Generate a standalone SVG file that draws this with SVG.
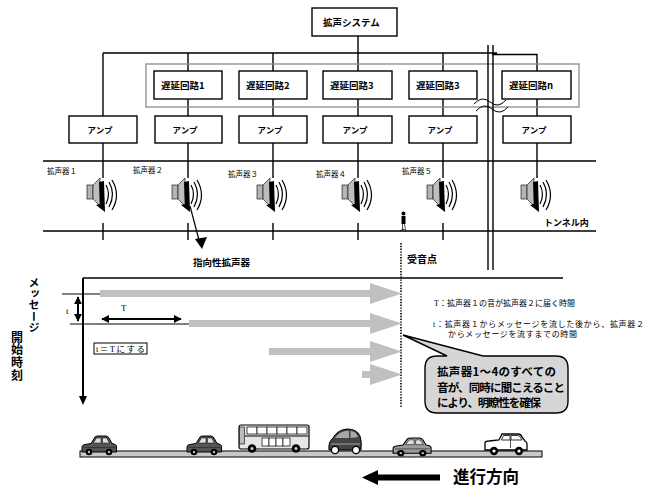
<svg xmlns="http://www.w3.org/2000/svg" xmlns:xlink="http://www.w3.org/1999/xlink" width="654" height="488" viewBox="0 0 654 488">
  <style>
    .box { fill: #ffffff; stroke: #000000; stroke-width: 1.4; }
    .grp { fill: none; stroke: #8a8a8a; stroke-width: 1.3; }
    .ln { fill: none; stroke: #000000; stroke-width: 1.4; }
    .thin { fill: none; stroke: #000000; stroke-width: 1; }
    .lbl { font-family: "Noto Sans CJK JP", "Liberation Sans", sans-serif; font-weight: bold; fill: #000000; }
    .mincho { font-family: "Liberation Serif", "Noto Sans CJK JP", serif; fill: #000000; }
    .bar { fill: #c0c0c0; }
  </style>
  <defs>
    <!-- loudspeaker icon, origin on the feed line, top of the icon -->
    <g id="spk">
      <rect x="-16" y="8" width="6" height="14" fill="#b4b4b4" stroke="#000" stroke-width="0.6"/>
      <polygon points="-10,8 -3,1 -3,29 -10,22" fill="#bdbdbd" stroke="#000" stroke-width="0.6"/>
      <polygon points="-4,5 1,4 2,35 -7,28 -3,27" fill="#000"/>
      <path d="M3,8 q5,9 0,19 M6,5 q7,12 0,25 M9,3 q9,15 0,30" fill="none" stroke="#000" stroke-width="1.2"/>
    </g>
    <!-- sedan, body colour comes from the referencing element -->
    <g id="sedan">
      <path d="M1,17 V12 Q1,10 4,9.5 L10,8.5 L14,2 Q15,1 17,1 H25 Q27,1 28,3 L31,8.5 Q35,9 35.5,11 V17 Z" stroke="#000" stroke-width="1"/>
      <path d="M15.5,3 H20 V8 H12.5 Z M21.5,3 H25.5 L28.5,8 H21.5 Z" fill="#e0e0e0" stroke="#000" stroke-width="0.5"/>
      <line x1="3" y1="12.5" x2="34" y2="12.5" stroke="#222" stroke-width="0.6"/>
      <circle cx="8" cy="17" r="3.3" fill="#000"/>
      <circle cx="8" cy="17" r="1.2" fill="#bbb"/>
      <circle cx="28" cy="17" r="3.3" fill="#000"/>
      <circle cx="28" cy="17" r="1.2" fill="#bbb"/>
    </g>
    <marker id="ah" viewBox="0 0 10 10" refX="9" refY="5" markerWidth="4" markerHeight="4" orient="auto-start-reverse">
      <path d="M0,0 L10,5 L0,10 Z" fill="#000"/>
    </marker>
  </defs>

  <rect width="654" height="488" fill="#ffffff"/>

  <!-- wiring between system, delay circuits, amplifiers and speakers -->
  <g id="connectors">
    <path class="ln" d="M358,36 V71 M103,53 H497 M492,54.5 H537 V71"/>
    <path class="ln" d="M103,53 V116 M188,53 V71 M273,53 V71"/>
    <path class="ln" d="M443,53 V71"/>
    <path class="ln" d="M188,99 V116 M273,99 V116 M358,99 V116 M443,99 V116 M537,99 V116"/>
    <path class="ln" d="M103,143 V178 M188,143 V178 M273,143 V178 M358,143 V178 M443,143 V178 M537,143 V178"/>
  </g>

  <!-- delay circuit enclosure -->
  <rect id="delay-group" class="grp" x="146" y="64" width="433" height="43"/>

  <g id="system">
    <rect class="box" x="312" y="8" width="85" height="28"/>
    <text class="lbl" x="323" y="26" font-size="9.5">拡声システム</text>
  </g>

  <g id="delay1"><rect class="box" x="154" y="71" width="68" height="28"/><text class="lbl" x="161" y="88.5" font-size="9.5">遅延回路1</text></g>
  <g id="delay2"><rect class="box" x="239" y="71" width="68" height="28"/><text class="lbl" x="246" y="88.5" font-size="9.5">遅延回路2</text></g>
  <g id="delay3"><rect class="box" x="323" y="71" width="69" height="28"/><text class="lbl" x="330" y="88.5" font-size="9.5">遅延回路3</text></g>
  <g id="delay4"><rect class="box" x="409" y="71" width="68" height="28"/><text class="lbl" x="416" y="88.5" font-size="9.5">遅延回路3</text></g>
  <g id="delayn"><rect class="box" x="502" y="71" width="69" height="28"/><text class="lbl" x="509" y="88.5" font-size="9.5">遅延回路n</text></g>

  <g id="amp1"><rect class="box" x="69" y="116" width="68" height="27"/><text class="lbl" x="100" y="133" font-size="8.5" text-anchor="middle">アンプ</text></g>
  <g id="amp2"><rect class="box" x="155" y="116" width="67" height="27"/><text class="lbl" x="185" y="133" font-size="8.5" text-anchor="middle">アンプ</text></g>
  <g id="amp3"><rect class="box" x="239" y="116" width="68" height="27"/><text class="lbl" x="270" y="133" font-size="8.5" text-anchor="middle">アンプ</text></g>
  <g id="amp4"><rect class="box" x="323" y="116" width="69" height="27"/><text class="lbl" x="355" y="133" font-size="8.5" text-anchor="middle">アンプ</text></g>
  <g id="amp5"><rect class="box" x="409" y="116" width="68" height="27"/><text class="lbl" x="440" y="133" font-size="8.5" text-anchor="middle">アンプ</text></g>
  <g id="ampn"><rect class="box" x="503" y="116" width="68" height="27"/><text class="lbl" x="534" y="133" font-size="8.5" text-anchor="middle">アンプ</text></g>

  <!-- omission mark: double line and tilde -->
  <g id="break">
    <path class="ln" d="M488,45 V270 M493,45 V270" stroke-width="1.2"/>
    <path d="M474,104 q8,-9 16,-2 t16,-2 M476,111 q8,-9 16,-2 t16,-2" fill="none" stroke="#000" stroke-width="1"/>
  </g>

  <!-- tunnel -->
  <g id="tunnel">
    <path class="ln" d="M43,161 H596 M43,231 H596"/>
    <path class="ln" d="M103,223 V240 M188,223 V240 M273,223 V240 M358,223 V240 M443,223 V240"/>
    <text class="lbl" x="544" y="226" font-size="9" font-weight="normal">トンネル内</text>
  </g>

  <g id="speaker1"><use href="#spk" x="103" y="177"/><text class="mincho" x="47" y="174" font-size="7.5">拡声器１</text></g>
  <g id="speaker2"><use href="#spk" x="188" y="177"/><text class="mincho" x="133" y="173" font-size="7.5">拡声器２</text></g>
  <g id="speaker3"><use href="#spk" x="273" y="177"/><text class="mincho" x="228" y="177" font-size="7.5">拡声器３</text></g>
  <g id="speaker4"><use href="#spk" x="358" y="177"/><text class="mincho" x="316" y="177" font-size="7.5">拡声器４</text></g>
  <g id="speaker5"><use href="#spk" x="443" y="177"/><text class="mincho" x="402" y="174" font-size="7.5">拡声器５</text></g>
  <g id="speakern"><use href="#spk" x="537" y="177"/></g>

  <!-- directional speaker callout -->
  <g id="directional">
    <line x1="190" y1="206" x2="199" y2="240" stroke="#000" stroke-width="1.2"/>
    <polygon points="195,239 207,237 202,249" fill="#000"/>
    <text class="lbl" x="193" y="266" font-size="9.5">指向性拡声器</text>
  </g>

  <!-- listener -->
  <g id="listener">
    <circle cx="403.5" cy="213.5" r="2" fill="#000"/>
    <rect x="401.5" y="216" width="4" height="8" fill="#000"/>
    <path d="M402.5,224 V230 M404.5,224 L405.5,230" stroke="#555" stroke-width="1"/>
    <path d="M400,231 L403,229 L406,231" stroke="#000" stroke-width="0.8" fill="none"/>
    <line x1="401" y1="243" x2="401" y2="408" stroke="#000" stroke-width="1.6" stroke-dasharray="1.4,1.4"/>
    <text class="lbl" x="407" y="263" font-size="10">受音点</text>
  </g>

  <!-- timing chart -->
  <g id="timing">
    <line x1="83" y1="278" x2="563" y2="278" stroke="#000" stroke-width="1.4"/>
    <line x1="83" y1="278" x2="83" y2="397" stroke="#000" stroke-width="2"/>
    <polygon points="79,396 87,396 83,405" fill="#000"/>
    <line x1="62" y1="294" x2="100" y2="294" class="thin"/>
    <line x1="70" y1="324" x2="189" y2="324" class="thin"/>
    <line x1="78" y1="297" x2="78" y2="321" stroke="#000" stroke-width="2" marker-start="url(#ah)" marker-end="url(#ah)"/>
    <text class="mincho" x="66" y="314" font-size="9">t</text>
    <line x1="102" y1="319" x2="181" y2="319" stroke="#000" stroke-width="2" marker-start="url(#ah)" marker-end="url(#ah)"/>
    <text class="mincho" x="121" y="311" font-size="9">T</text>
    <rect x="94" y="343" width="53" height="11" fill="#fff" stroke="#000" stroke-width="1"/>
    <text class="mincho" x="96" y="352" font-size="8.5" textLength="49">t＝Tにする</text>

    <rect class="bar" x="100" y="290" width="271" height="7"/>
    <polygon class="bar" points="370,283 402,293.5 370,304"/>
    <rect class="bar" x="189" y="320" width="182" height="7"/>
    <polygon class="bar" points="370,313 402,323.5 370,334"/>
    <rect class="bar" x="269" y="348" width="102" height="7"/>
    <polygon class="bar" points="370,341 402,351.5 370,362"/>
    <rect class="bar" x="362" y="371" width="9" height="7"/>
    <polygon class="bar" points="370,364 402,374.5 370,385"/>

    <text class="lbl" x="34" y="277" font-size="11" style="writing-mode: vertical-rl;" letter-spacing="0.3">メッセージ</text>
    <text class="lbl" x="17" y="331" font-size="12" style="writing-mode: vertical-rl;" letter-spacing="0.8">開始時刻</text>
  </g>

  <!-- legend -->
  <g id="notes" class="mincho" font-size="8">
    <text x="434" y="306" textLength="141">T：拡声器１の音が拡声器２に届く時間</text>
    <text x="433" y="327" textLength="211">t：拡声器１からメッセージを流した後から、拡声器２</text>
    <text x="448" y="337" textLength="129">からメッセージを流すまでの時間</text>
  </g>

  <!-- speech balloon -->
  <g id="balloon">
    <path d="M437,356 H447 L403,335 L483,356 H556 Q568,356 568,368 V401 Q568,413 556,413 H437 Q425,413 425,401 V368 Q425,356 437,356 Z" fill="#d6d6d6" stroke="#000" stroke-width="1.4"/>
    <text class="lbl" x="437" y="376" font-size="11.5" textLength="119">拡声器1～4のすべての</text>
    <text class="lbl" x="437" y="391.5" font-size="11.5" textLength="128">音が、同時に聞こえること</text>
    <text class="lbl" x="437" y="407" font-size="11.5" textLength="104">により、明瞭性を確保</text>
  </g>

  <!-- road and traffic -->
  <g id="road">
    <rect x="80" y="451" width="462" height="6" fill="#c8c8c8" stroke="#000" stroke-width="1"/>
    <use href="#sedan" x="81" y="435" fill="#555555"/>
    <use href="#sedan" x="186" y="435" fill="#555555"/>
    <g transform="translate(392,437) scale(1.1,0.95)">
      <use href="#sedan" fill="#9a9a9a"/>
    </g>

    <!-- bus -->
    <g transform="translate(238,424)">
      <rect x="1" y="1" width="70" height="24" rx="2" fill="#e6e6e6" stroke="#000" stroke-width="1.2"/>
      <rect x="1.5" y="3" width="5" height="17" fill="#bbb" stroke="#000" stroke-width="0.6"/>
      <g fill="#fff" stroke="#000" stroke-width="0.7">
        <rect x="9" y="3" width="10" height="7"/><rect x="19" y="3" width="10" height="7"/>
        <rect x="29" y="3" width="10" height="7"/><rect x="39" y="3" width="10" height="7"/>
        <rect x="49" y="3" width="10" height="7"/><rect x="59" y="3" width="10" height="7"/>
        <rect x="24" y="14" width="7" height="8"/><rect x="31" y="14" width="7" height="8"/>
        <rect x="38" y="14" width="7" height="8"/><rect x="45" y="14" width="7" height="8"/>
      </g>
      <line x1="7" y1="12" x2="70" y2="12" stroke="#000" stroke-width="1"/>
      <circle cx="14" cy="24.5" r="4.3" fill="#000"/><circle cx="14" cy="24.5" r="1.6" fill="#ccc"/>
      <circle cx="58" cy="24.5" r="4.3" fill="#000"/><circle cx="58" cy="24.5" r="1.6" fill="#ccc"/>
    </g>

    <!-- compact car -->
    <g transform="translate(327,428)">
      <path d="M2,22 Q1,14 6,10 Q10,2 20,1 Q30,1 33,8 Q35,14 34,22 Z" fill="#444" stroke="#000" stroke-width="1"/>
      <path d="M8,10 Q12,4 19,3 L22,3 L22,10 Z M23.5,3 Q29,3 31,9 L23.5,10 Z" fill="#a8a8a8"/>
      <line x1="4" y1="16" x2="33" y2="16" stroke="#bbb" stroke-width="0.8"/>
      <circle cx="8" cy="22" r="3.6" fill="#fff" stroke="#000" stroke-width="1.4"/>
      <circle cx="29" cy="22" r="3.6" fill="#fff" stroke="#000" stroke-width="1.4"/>
    </g>

    <!-- light coloured car -->
    <g transform="translate(484,433)">
      <path d="M1,17 V10 Q1,8 5,8 L15,7 L18,1 H34 Q37,1 38,4 L41,8 Q43,9 43,11 V17 Z" fill="#fff" stroke="#000" stroke-width="1.3"/>
      <path d="M19.5,2.5 H26 V7 H17.5 Z M27,2.5 H33.5 Q35.5,2.5 36.5,4.5 L38,7 H27 Z" fill="#fff" stroke="#000" stroke-width="0.8"/>
      <line x1="26.5" y1="7" x2="26.5" y2="15" stroke="#000" stroke-width="0.7"/>
      <circle cx="10" cy="18" r="4.2" fill="#000"/><circle cx="10" cy="18" r="1.6" fill="#fff"/>
      <circle cx="35" cy="18" r="4.2" fill="#000"/><circle cx="35" cy="18" r="1.6" fill="#fff"/>
    </g>
  </g>

  <!-- direction of travel -->
  <g id="direction">
    <rect x="376" y="474.5" width="64" height="6" fill="#000"/>
    <polygon points="378,470 378,485 362,477.5" fill="#000"/>
    <text class="lbl" x="453" y="483" font-size="16.5">進行方向</text>
  </g>
</svg>
